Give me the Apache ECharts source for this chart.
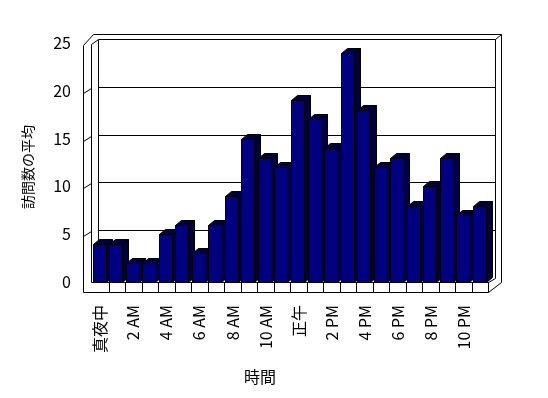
<!DOCTYPE html>
<html>
<head>
<meta charset="utf-8">
<script src="https://cdn.jsdelivr.net/npm/echarts@6/dist/echarts.min.js"></script>
<style>
  html, body { margin: 0; padding: 0; background: #fff; }
  #chart { width: 548px; height: 398px; }
</style>
</head>
<body>
<div id="chart"></div>
<script>
const hours = [
  "真夜中", "1 AM", "2 AM", "3 AM", "4 AM", "5 AM", "6 AM", "7 AM", "8 AM", "9 AM", "10 AM", "11 AM",
  "正午", "1 PM", "2 PM", "3 PM", "4 PM", "5 PM", "6 PM", "7 PM", "8 PM", "9 PM", "10 PM", "11 PM"
];
const visits = [4, 4, 2, 2, 5, 6, 3, 6, 9, 15, 13, 12, 19, 17, 14, 24, 18, 12, 13, 8, 10, 13, 7, 8];
const yTicks = [0, 5, 10, 15, 20, 25];

const FONT = "'Noto Sans CJK JP', 'Noto Sans', sans-serif";
const FRONT = "#000080";
const SHADE = "#000040";
const DX = 6;
const DY = -5;

const chart = echarts.init(document.getElementById("chart"), null, { renderer: "canvas" });

const renderBar = (params, api) => {
  const idx = api.value(0);
  const v = api.value(1);
  const base = api.coord([idx, 0]);
  const top = api.coord([idx, v]);
  const slot = api.size([1, 0])[0];
  const w = Math.round(slot * 0.78);
  const x0 = Math.round(base[0] - w / 2) - 0.5;
  const x1 = x0 + w;
  const yT = Math.round(top[1]) + 0.5;
  const yB = Math.round(base[1]) + 0.5;
  const edge = { stroke: "#000", lineWidth: 1 };
  return {
    type: "group",
    children: [
      {
        type: "polygon",
        shape: { points: [[x1, yB], [x1, yT], [x1 + DX, yT + DY], [x1 + DX, yB + DY]] },
        style: Object.assign({ fill: SHADE }, edge)
      },
      {
        type: "polygon",
        shape: { points: [[x0, yT], [x0 + DX, yT + DY], [x1 + DX, yT + DY], [x1, yT]] },
        style: Object.assign({ fill: SHADE }, edge)
      },
      {
        type: "rect",
        shape: { x: x0, y: yT, width: w, height: yB - yT },
        style: Object.assign({ fill: FRONT }, edge)
      }
    ]
  };
};

chart.setOption({
  animation: false,
  backgroundColor: "#fff",
  grid: { left: 92, right: 59.5, top: 43, bottom: 116 },
  xAxis: {
    type: "category",
    data: hours,
    axisLine: { show: false },
    axisTick: { show: false },
    axisLabel: {
      interval: 1,
      rotate: 90,
      margin: 23,
      color: "#000",
      fontSize: 16,
      fontFamily: FONT
    }
  },
  yAxis: {
    type: "value",
    min: yTicks[0],
    max: yTicks[yTicks.length - 1],
    interval: 5,
    axisLine: { show: false },
    axisTick: { show: false },
    splitLine: { show: false },
    axisLabel: { margin: 21, color: "#000", fontSize: 16, fontFamily: FONT }
  },
  series: [
    {
      type: "custom",
      z: 5,
      renderItem: renderBar,
      encode: { x: 0, y: 1 },
      data: visits.map((v, i) => [i, v])
    }
  ]
});

// frame: left wall, back wall, floor band
const px = (v) => Math.round(v) + 0.5;
const c0 = chart.convertToPixel({ xAxisIndex: 0 }, 0);
const c1 = chart.convertToPixel({ xAxisIndex: 0 }, 1);
const slot = c1 - c0;
const xL = px(c0 - slot / 2);
const xR = px(c0 + slot * (hours.length - 0.5));
const yAt = (v) => px(chart.convertToPixel({ yAxisIndex: 0 }, v));
const yTop = yAt(yTicks[yTicks.length - 1]);
const yB = yAt(0);

const line = (pts) => ({
  type: "polyline",
  silent: true,
  z: 0,
  shape: { points: pts },
  style: { stroke: "#000", lineWidth: 1, fill: null }
});

const frame = [
  // left wall + outer back edge
  line([[xL - 9, yB + 10], [xL - 9, yTop + 2], [xL + 1, yTop - 9], [xR + 13, yTop - 9], [xR + 13, yB]]),
  line([[xL - 1, yB], [xL - 1, yTop + 1], [xL + 6, yTop - 4]]),
  // back wall inner
  line([[xL + 6, yB - 4], [xL + 6, yTop - 4], [xR + 7, yTop - 4], [xR + 7, yB - 4]]),
  line([[xR + 7, yTop - 4], [xR + 13, yTop - 9]]),
  // floor band
  line([[xL - 9, yB + 10], [xR, yB + 10], [xR + 13, yB]]),
  line([[xL - 1, yB], [xR, yB], [xR + 7, yB - 4]]),
  line([[xR, yB], [xR, yB + 10]])
];

yTicks.slice(1, -1).forEach((v) => {
  const y = yAt(v);
  frame.push(line([[xL + 6, y - 4], [xR + 7, y - 4]]));
  frame.push(line([[xL - 9, y + 2], [xL - 1, y - 3]]));
});

hours.forEach((h, i) => {
  if (i === 0) return;
  const x = px(c0 + slot * (i - 0.5));
  frame.push(line([[x, yB], [x, yB + 10]]));
});

frame.push({
  type: "text",
  silent: true,
  x: 260,
  y: 377,
  style: { text: "時間", fill: "#000", font: `16px ${FONT}`, align: "center", verticalAlign: "middle" }
});
frame.push({
  type: "text",
  silent: true,
  x: 28,
  y: 167,
  rotation: Math.PI / 2,
  style: { text: "訪問数の平均", fill: "#000", font: `14px ${FONT}`, align: "center", verticalAlign: "middle" }
});

chart.setOption({ graphic: frame });
</script>
</body>
</html>
